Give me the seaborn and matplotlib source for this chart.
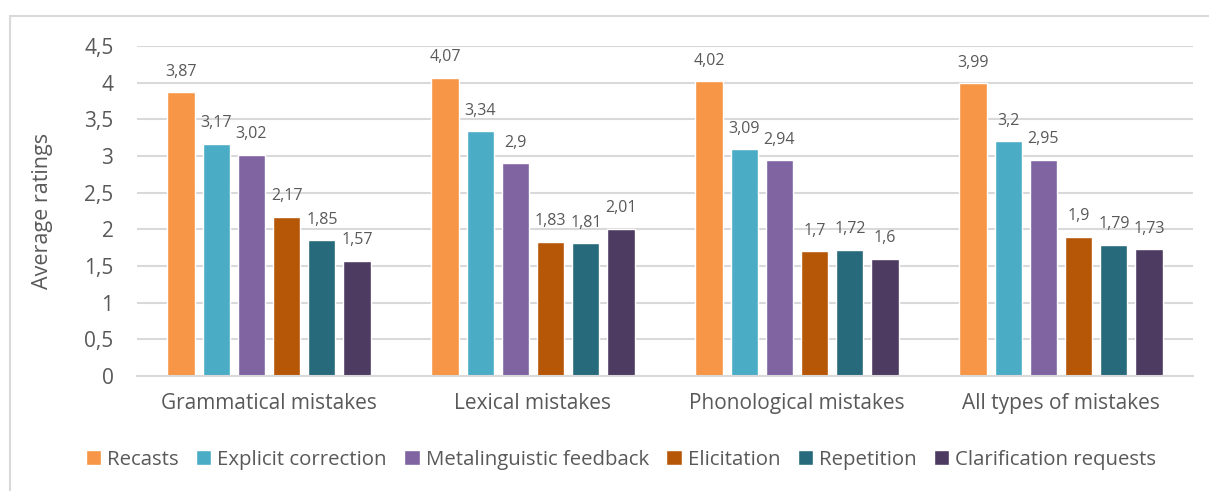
import matplotlib
matplotlib.use("Agg")
import matplotlib.pyplot as plt
from matplotlib.lines import Line2D
import seaborn as sns
import pandas as pd

categories = ["Grammatical mistakes", "Lexical mistakes", "Phonological mistakes", "All types of mistakes"]
feedback_types = ["Recasts", "Explicit correction", "Metalinguistic feedback",
                  "Elicitation", "Repetition", "Clarification requests"]
recasts = [3.87, 4.07, 4.02, 3.99]
explicit_correction = [3.17, 3.34, 3.09, 3.20]
metalinguistic = [3.02, 2.90, 2.94, 2.95]
elicitation = [2.17, 1.83, 1.70, 1.90]
repetition = [1.85, 1.81, 1.72, 1.79]
clarification = [1.57, 2.01, 1.60, 1.73]
y_ticks = [0, 0.5, 1, 1.5, 2, 2.5, 3, 3.5, 4, 4.5]

series = [recasts, explicit_correction, metalinguistic, elicitation, repetition, clarification]
colors = ["#F79646", "#4BACC6", "#8064A2", "#B65708", "#276A7C", "#4D3B62"]

rows = []
for name, vals in zip(feedback_types, series):
    for cat, v in zip(categories, vals):
        rows.append({"Mistake": cat, "Feedback": name, "Rating": v})
df = pd.DataFrame(rows)

sns.set_theme(style="white")
plt.rcParams["font.family"] = ["Open Sans", "DejaVu Sans"]
text_color = "#595959"
grid_color = "#D9D9D9"

fig = plt.figure(figsize=(12.09, 4.91), dpi=100)
ax = fig.add_axes([137 / 1209, 1 - 376 / 491, (1193 - 137) / 1209, (376 - 46) / 491])

sns.barplot(data=df, x="Mistake", y="Rating", hue="Feedback",
            order=categories, hue_order=feedback_types, palette=colors,
            width=0.8, gap=0.23, saturation=1, ax=ax, legend=True)

def comma(v):
    return f"{v:g}".replace(".", ",")

for cont in ax.containers:
    ax.bar_label(cont, labels=[comma(b.get_height()) for b in cont],
                 padding=9, fontsize=11.5, color=text_color)

ax.set_ylim(0, 4.5)
ax.set_xlim(-0.5, 3.5)
ax.set_yticks(y_ticks)
ax.set_yticklabels([comma(t) for t in y_ticks])
ax.yaxis.grid(True, color=grid_color, linewidth=1.5)
ax.set_axisbelow(True)
for side in ["top", "right", "left"]:
    ax.spines[side].set_visible(False)
ax.spines["bottom"].set_color(grid_color)
ax.spines["bottom"].set_linewidth(1.5)
ax.tick_params(axis="y", labelsize=15, colors=text_color, length=0, pad=17)
ax.tick_params(axis="x", labelsize=15, colors=text_color, length=0, pad=12)
ax.set_xlabel("")
ax.set_ylabel("Average ratings", fontsize=15.5, color=text_color, labelpad=22)

handles, labels = ax.get_legend_handles_labels()
ax.get_legend().remove()
leg = fig.legend(handles, labels, loc="center", bbox_to_anchor=(621 / 1209, 1 - 460 / 491),
                 ncol=6, frameon=False, fontsize=14.7, handlelength=0.75, handleheight=0.75,
                 handletextpad=0.3, columnspacing=0.85)
for t in leg.get_texts():
    t.set_color(text_color)

# outer chart frame (left and top edges)
fig.add_artist(Line2D([10 / 1209, 10 / 1209], [0, 1 - 16 / 491], transform=fig.transFigure,
                      color=grid_color, linewidth=1.5))
fig.add_artist(Line2D([10 / 1209, 1], [1 - 16 / 491, 1 - 16 / 491], transform=fig.transFigure,
                      color=grid_color, linewidth=1.5))

fig.savefig("out.png", dpi=100, facecolor="white")
